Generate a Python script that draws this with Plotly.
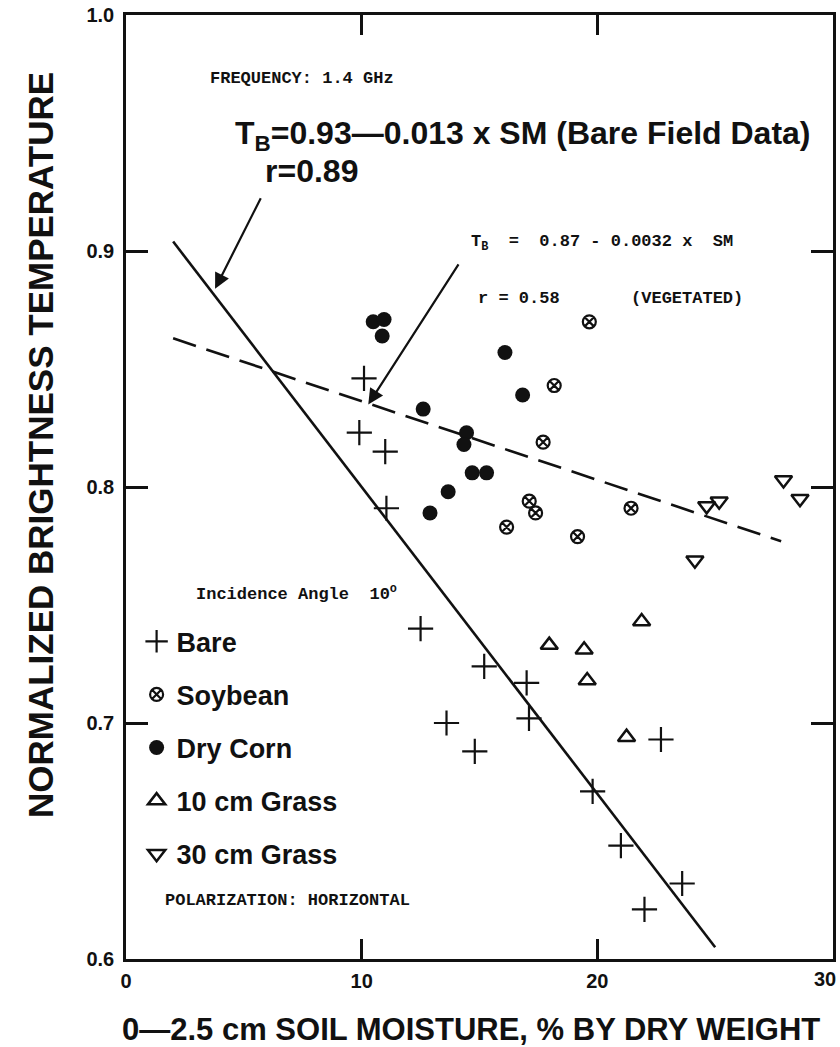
import plotly.graph_objects as go

# ---- data ----
bare_x = [10.1, 9.9, 11.0, 11.05, 12.5, 13.6, 15.2, 17.0, 17.1, 14.8, 19.8, 21.0, 22.0, 23.6, 22.7]
bare_y = [0.846, 0.823, 0.815, 0.791, 0.740, 0.700, 0.724, 0.717, 0.702, 0.688, 0.671, 0.648, 0.621, 0.632, 0.693]

soy_x = [19.66, 18.17, 17.70, 17.11, 17.38, 21.43, 16.15, 19.16]
soy_y = [0.870, 0.843, 0.819, 0.794, 0.789, 0.791, 0.783, 0.779]

corn_x = [10.49, 10.95, 10.87, 16.08, 16.83, 12.61, 14.45, 14.34, 14.69, 15.30, 13.67, 12.90]
corn_y = [0.870, 0.871, 0.864, 0.857, 0.839, 0.833, 0.823, 0.818, 0.806, 0.806, 0.798, 0.789]

g10_x = [17.96, 19.44, 19.57, 21.88, 21.24]
g10_y = [0.733, 0.731, 0.718, 0.743, 0.694]

g30_x = [24.14, 24.64, 25.17, 27.9, 28.6]
g30_y = [0.769, 0.792, 0.794, 0.803, 0.795]

bare_fit_x = [2.0, 25.0]
bare_fit_y = [0.904, 0.605]
veg_fit_x = [2.0, 27.8]
veg_fit_y = [0.863, 0.777]

x_ticks = [0, 10, 20, 30]
x_ticklabels = ["0", "10", "20", "30"]
y_ticks = [0.6, 0.7, 0.8, 0.9, 1.0]
y_ticklabels = ["0.6", "0.7", "0.8", "0.9", "1.0"]

BLACK = "#111111"
MONO = "Liberation Mono, Courier New, monospace"
SANS = "Liberation Sans, Arial, Helvetica, sans-serif"
TICKFONT = dict(family=SANS, size=20, color=BLACK, weight="bold")

fig = go.Figure()

# regression lines
fig.add_trace(go.Scatter(x=bare_fit_x, y=bare_fit_y, mode="lines",
                         line=dict(color=BLACK, width=2.6), showlegend=False, hoverinfo="skip"))
fig.add_trace(go.Scatter(x=veg_fit_x, y=veg_fit_y, mode="lines",
                         line=dict(color=BLACK, width=2.6, dash="24px,11px"), showlegend=False, hoverinfo="skip"))

# data series
fig.add_trace(go.Scatter(x=bare_x, y=bare_y, mode="markers", name="Bare", legendgroup="a",
                         marker=dict(symbol="cross-thin-open", size=18, line=dict(color=BLACK, width=2.2), color=BLACK)))
fig.add_trace(go.Scatter(x=soy_x, y=soy_y, mode="markers", name="Soybean", legendgroup="b",
                         marker=dict(symbol="circle-x-open", size=13, line=dict(color=BLACK, width=2.2), color=BLACK)))
fig.add_trace(go.Scatter(x=corn_x, y=corn_y, mode="markers", name="Dry Corn", legendgroup="c",
                         marker=dict(symbol="circle", size=15, color=BLACK, line=dict(width=0))))
fig.add_trace(go.Scatter(x=g10_x, y=g10_y, mode="markers", name="10 cm Grass", legendgroup="d",
                         marker=dict(symbol="triangle-up-open", size=15, line=dict(color=BLACK, width=2.5), color=BLACK)))
fig.add_trace(go.Scatter(x=g30_x, y=g30_y, mode="markers", name="30 cm Grass", legendgroup="e",
                         marker=dict(symbol="triangle-down-open", size=15, line=dict(color=BLACK, width=2.5), color=BLACK)))

# text annotations
fig.add_annotation(x=3.5, y=0.973, xref="x", yref="y", text="<b>FREQUENCY: 1.4 GHz</b>",
                   showarrow=False, xanchor="left", font=dict(family=MONO, size=17, color=BLACK))
fig.add_annotation(x=4.55, y=0.949, xref="x", yref="y",
                   text="T<sub>B</sub>=0.93\u20140.013 x SM (Bare Field Data)",
                   showarrow=False, xanchor="left", font=dict(family=SANS, size=32, color=BLACK, weight="bold"))
fig.add_annotation(x=5.8, y=0.934, xref="x", yref="y", text="r=0.89",
                   showarrow=False, xanchor="left", font=dict(family=SANS, size=32, color=BLACK, weight="bold"))
fig.add_annotation(x=14.55, y=0.9035, xref="x", yref="y", text="<b>T<sub>B</sub>  =  0.87 - 0.0032 x  SM</b>",
                   showarrow=False, xanchor="left", font=dict(family=MONO, size=17, color=BLACK))
fig.add_annotation(x=14.85, y=0.880, xref="x", yref="y", text="<b>r = 0.58       (VEGETATED)</b>",
                   showarrow=False, xanchor="left", font=dict(family=MONO, size=17, color=BLACK))
fig.add_annotation(x=2.9, y=0.755, xref="x", yref="y", text="<b>Incidence Angle  10<sup>o</sup></b>",
                   showarrow=False, xanchor="left", font=dict(family=MONO, size=17, color=BLACK))
fig.add_annotation(x=1.55, y=0.625, xref="x", yref="y", text="<b>POLARIZATION: HORIZONTAL</b>",
                   showarrow=False, xanchor="left", font=dict(family=MONO, size=17, color=BLACK))

# arrows
fig.add_annotation(x=3.78, y=0.884, ax=5.75, ay=0.923, xref="x", yref="y", axref="x", ayref="y",
                   text="", showarrow=True, arrowhead=2, arrowsize=1.4, arrowwidth=2.2, arrowcolor=BLACK)
fig.add_annotation(x=10.28, y=0.835, ax=14.15, ay=0.895, xref="x", yref="y", axref="x", ayref="y",
                   text="", showarrow=True, arrowhead=2, arrowsize=1.4, arrowwidth=2.2, arrowcolor=BLACK)

# last x tick label, kept inside the page at the right corner
fig.add_annotation(x=x_ticks[-1], y=0, xref="x", yref="paper", text=x_ticklabels[-1],
                   showarrow=False, xanchor="right", yanchor="top", xshift=5, yshift=-7,
                   font=TICKFONT)

# axis titles
fig.add_annotation(x=0.488, y=-0.0742, xref="paper", yref="paper",
                   text="0\u20142.5 cm SOIL MOISTURE, % BY DRY WEIGHT", showarrow=False,
                   xanchor="center", yanchor="middle",
                   font=dict(family=SANS, size=31, color=BLACK, weight="bold"))
fig.add_annotation(x=-0.121, y=0.545, xref="paper", yref="paper",
                   text="NORMALIZED BRIGHTNESS TEMPERATURE", showarrow=False, textangle=-90,
                   xanchor="center", yanchor="middle",
                   font=dict(family=SANS, size=35, color=BLACK, weight="bold"))

axis_common = dict(showgrid=False, zeroline=False, showline=True, linecolor=BLACK, linewidth=2.5,
                   mirror="ticks", ticks="inside", tickcolor=BLACK, tickwidth=2.5,
                   automargin=False, tickfont=TICKFONT)

fig.update_xaxes(range=[0, 30], tickvals=x_ticks[:-1], ticktext=x_ticklabels[:-1], ticklen=20,
                 ticklabelstandoff=2, **axis_common)
fig.update_yaxes(range=[0.6, 1.0], tickvals=y_ticks, ticktext=y_ticklabels, ticklen=22,
                 ticklabelstandoff=5, **axis_common)

fig.update_layout(
    width=840, height=1047,
    margin=dict(l=126, r=7, t=15, b=88, autoexpand=False),
    plot_bgcolor="white", paper_bgcolor="white",
    showlegend=True,
    legend=dict(x=0.015, y=0.362, xanchor="left", yanchor="top",
                traceorder="grouped", tracegroupgap=15,
                font=dict(family=SANS, size=27, color=BLACK, weight="bold"),
                bgcolor="rgba(0,0,0,0)", borderwidth=0, itemwidth=30),
)

fig.write_html("out.html")
